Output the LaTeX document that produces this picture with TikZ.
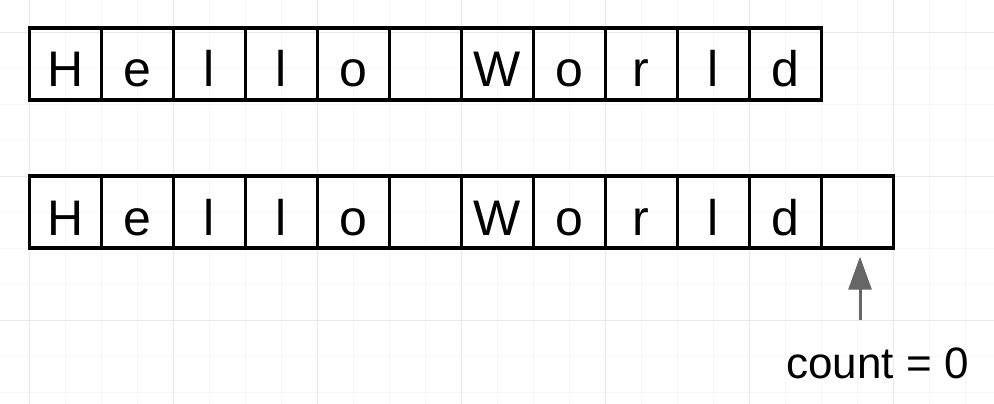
\documentclass[tikz,border=0pt]{standalone}
\usepackage{fontspec}
\setmainfont{Liberation Sans}
\usetikzlibrary{arrows.meta,calc}
\definecolor{gridminor}{HTML}{F6F6F6}
\definecolor{gridmajor}{HTML}{E9E9E9}
\definecolor{arrowgray}{HTML}{666666}
\begin{document}
\begin{tikzpicture}[x=1pt,y=-1pt,
  cell/.style={draw=black,line width=3.3pt,minimum width=72pt,minimum height=72pt,
    inner sep=0pt,text height=46pt,text depth=0pt,font=\fontsize{50}{50}\selectfont},
  pointer/.style={draw=arrowgray,line width=3pt,-{Triangle[length=33pt,width=23pt]}},
  label/.style={anchor=base,font=\fontsize{44}{44}\selectfont}]
\useasboundingbox (0,0) rectangle (994,404);
% grid
\foreach \i in {-1,...,27} {
  \draw[gridminor,line width=0.8pt] ({29.3+36*\i},0) -- ({29.3+36*\i},404);
}
\foreach \j in {-1,...,11} {
  \draw[gridminor,line width=0.8pt] (0,{32.3+36*\j}) -- (994,{32.3+36*\j});
}
\foreach \i in {-1,...,6} {
  \draw[gridmajor,line width=0.8pt] ({29.3+144*\i},0) -- ({29.3+144*\i},404);
}
\foreach \j in {0,1,2} {
  \draw[gridmajor,line width=0.8pt] (0,{32.3+144*\j}) -- (994,{32.3+144*\j});
}
% top row
\foreach \ch [count=\k] in {H,e,l,l,o,{},W,o,r,l,d} {
  \node[cell] (a\k) at ({29.3+36+72*(\k-1)},64) {\ch};
}
% bottom row
\foreach \ch [count=\k] in {H,e,l,l,o,{},W,o,r,l,d,{}} {
  \node[cell] (b\k) at ({29.3+36+72*(\k-1)},212) {\ch};
}
\coordinate (tail) at (860,320);
\draw[pointer] (tail) -- ($(b12.south)+(2.7,7)$);
\node[label] (count) at (877.5,378) {count = 0};
\end{tikzpicture}
\end{document}
